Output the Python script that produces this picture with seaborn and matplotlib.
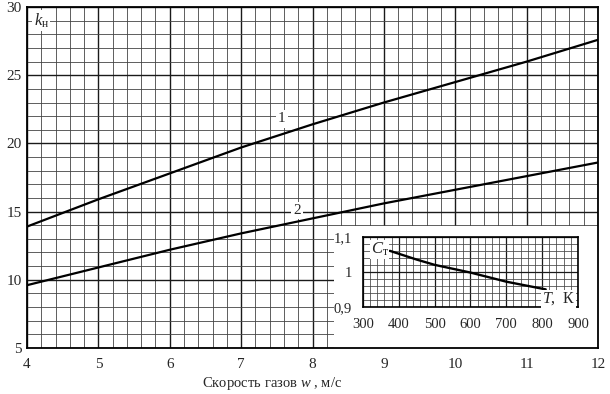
import matplotlib
matplotlib.use("Agg")
import matplotlib.pyplot as plt
from matplotlib.ticker import MultipleLocator
from matplotlib.patches import Rectangle
import numpy as np
import pandas as pd
import seaborn as sns

# main chart: coefficient k_n vs gas velocity w
w = [4, 5, 6, 7, 8, 9, 10, 11, 12]
k_curve1 = [13.9, 15.9, 17.8, 19.7, 21.4, 23.0, 24.5, 26.0, 27.6]
k_curve2 = [9.6, 10.9, 12.2, 13.4, 14.5, 15.6, 16.6, 17.6, 18.6]
curve_names = ["1", "2"]

# inset: C_t vs temperature T
T = [375, 450, 500, 600, 700, 810]
C_t = [1.06, 1.035, 1.02, 0.998, 0.972, 0.95]

x_ticks = [4, 5, 6, 7, 8, 9, 10, 11, 12]
y_ticks = [5, 10, 15, 20, 25, 30]
inset_x_ticks = [300, 400, 500, 600, 700, 800, 900]
inset_y_ticks = [0.9, 1.0, 1.1]
inset_y_labels = ["0,9", "1", "1,1"]

sns.set_theme(style="white")
plt.rcParams['font.family'] = ['Liberation Serif', 'DejaVu Serif']
plt.rcParams['mathtext.fontset'] = 'custom'
plt.rcParams['mathtext.rm'] = 'Liberation Serif'
plt.rcParams['mathtext.it'] = 'Liberation Serif:italic'

fig = plt.figure(figsize=(6.1, 3.94), dpi=100)
ax = fig.add_axes([0.0443, 0.117, 0.936, 0.865])

df = pd.DataFrame({
    "w": w * 2,
    "k": k_curve1 + k_curve2,
    "curve": [curve_names[0]] * len(w) + [curve_names[1]] * len(w),
})
sns.lineplot(data=df, x="w", y="k", hue="curve", palette=["black", "black"],
             linewidth=1.6, legend=False, ax=ax, zorder=3)

ax.set_xlim(4, 12)
ax.set_ylim(5, 30)
ax.set_xticks(x_ticks)
ax.set_yticks(y_ticks)
ax.xaxis.set_minor_locator(MultipleLocator(0.2))
ax.yaxis.set_minor_locator(MultipleLocator(1))
ax.set_axisbelow(True)
ax.grid(which="major", color="#1a1a1a", linewidth=1.0)
ax.grid(which="minor", color="#444444", linewidth=0.6)
ax.tick_params(axis="x", which="major", labelsize=11, pad=7, length=0)
ax.tick_params(axis="y", which="major", labelsize=11, pad=4, length=0)
ax.tick_params(which="minor", length=0)
for s in ax.spines.values():
    s.set_color("black")
    s.set_linewidth(1.3)

ax.set_xlabel("Скорость газов $w$ , м/с", fontsize=10.5, x=0.43, labelpad=3)
ax.set_ylabel("")

# white area under the inset
ax.add_patch(Rectangle((8.3, 5), 3.7, 8.95, facecolor="white", edgecolor="none", zorder=1))

# curve labels
ax.text(7.57, 21.8, "1", ha="center", va="center", fontsize=11, zorder=4,
        bbox=dict(facecolor="white", edgecolor="none", pad=1.5))
ax.text(7.78, 15.1, "2", ha="center", va="center", fontsize=11, zorder=4,
        bbox=dict(facecolor="white", edgecolor="none", pad=1.5))
ax.text(4.2, 29.0, "$k_\\mathrm{н}$", ha="center", va="center", fontsize=12, zorder=4,
        bbox=dict(facecolor="white", edgecolor="none", pad=1))

# inset chart
ins = fig.add_axes([0.595, 0.221, 0.3525, 0.178])
sns.lineplot(x=T, y=C_t, color="black", linewidth=1.7, ax=ins, zorder=3)
ins.set_xlim(300, 900)
ins.set_ylim(0.9, 1.1)
ins.set_xticks(inset_x_ticks)
ins.set_yticks(inset_y_ticks)
ins.set_yticklabels(inset_y_labels)
ins.xaxis.set_minor_locator(MultipleLocator(20))
ins.yaxis.set_minor_locator(MultipleLocator(0.02))
ins.set_axisbelow(True)
ins.grid(which="major", color="#1a1a1a", linewidth=0.9)
ins.grid(which="minor", color="#444444", linewidth=0.55)
ins.tick_params(axis="x", which="major", labelsize=10.5, pad=8, length=0)
ins.tick_params(axis="y", which="major", labelsize=10.5, pad=8, length=0)
ins.tick_params(which="minor", length=0)
for s in ins.spines.values():
    s.set_color("black")
    s.set_linewidth(1.2)
ins.text(372, 1.063, "$C_\\mathrm{т}$", ha="right", va="center", fontsize=12, zorder=4,
         bbox=dict(facecolor="white", edgecolor="none", pad=0.5))
ins.text(893, 0.923, "$T$,  К", ha="right", va="center", fontsize=11.5, zorder=4,
         bbox=dict(facecolor="white", edgecolor="none", pad=0.5))

fig.savefig("out.png", dpi=100)
